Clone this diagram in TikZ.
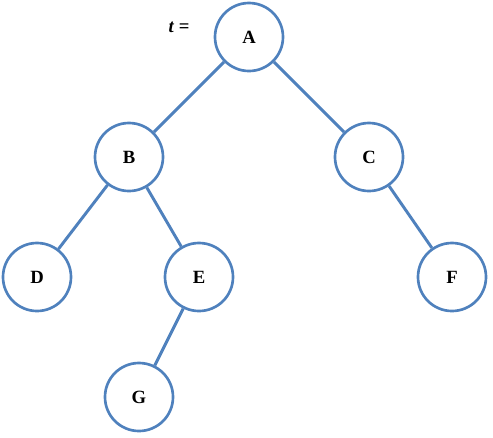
\documentclass[tikz,border=0pt]{standalone}
\usepackage{fontspec}
\setmainfont{Liberation Serif}
\usepackage{xcolor}
\definecolor{offblue}{RGB}{79,129,189}
\tikzset{
  tnode/.style={circle,draw=offblue,line width=2pt,minimum size=51pt,inner sep=0pt,font=\fontsize{14}{16}\selectfont\bfseries},
  tedge/.style={draw=offblue,line width=2.2pt}
}

\begin{document}
\begin{tikzpicture}[x=0.75pt,y=-0.75pt]
  \useasboundingbox (0,0) rectangle (493,437);
  \node[tnode] (A) at (249,37) {A};
  \node[tnode] (B) at (129,157) {B};
  \node[tnode] (C) at (369,157) {C};
  \node[tnode] (D) at (37,277) {D};
  \node[tnode] (E) at (199,277) {E};
  \node[tnode] (F) at (452,277) {F};
  \node[tnode] (G) at (139,397) {G};
  \node[font=\fontsize{14}{16}\selectfont\bfseries] (lbl) at (179,27) {\textit{t} =};
  
  \draw[tedge] (A)--(B);
  \draw[tedge] (A)--(C);
  \draw[tedge] (B)--(D);
  \draw[tedge] (B)--(E);
  \draw[tedge] (C)--(F);
  \draw[tedge] (E)--(G);
\end{tikzpicture}
\end{document}
